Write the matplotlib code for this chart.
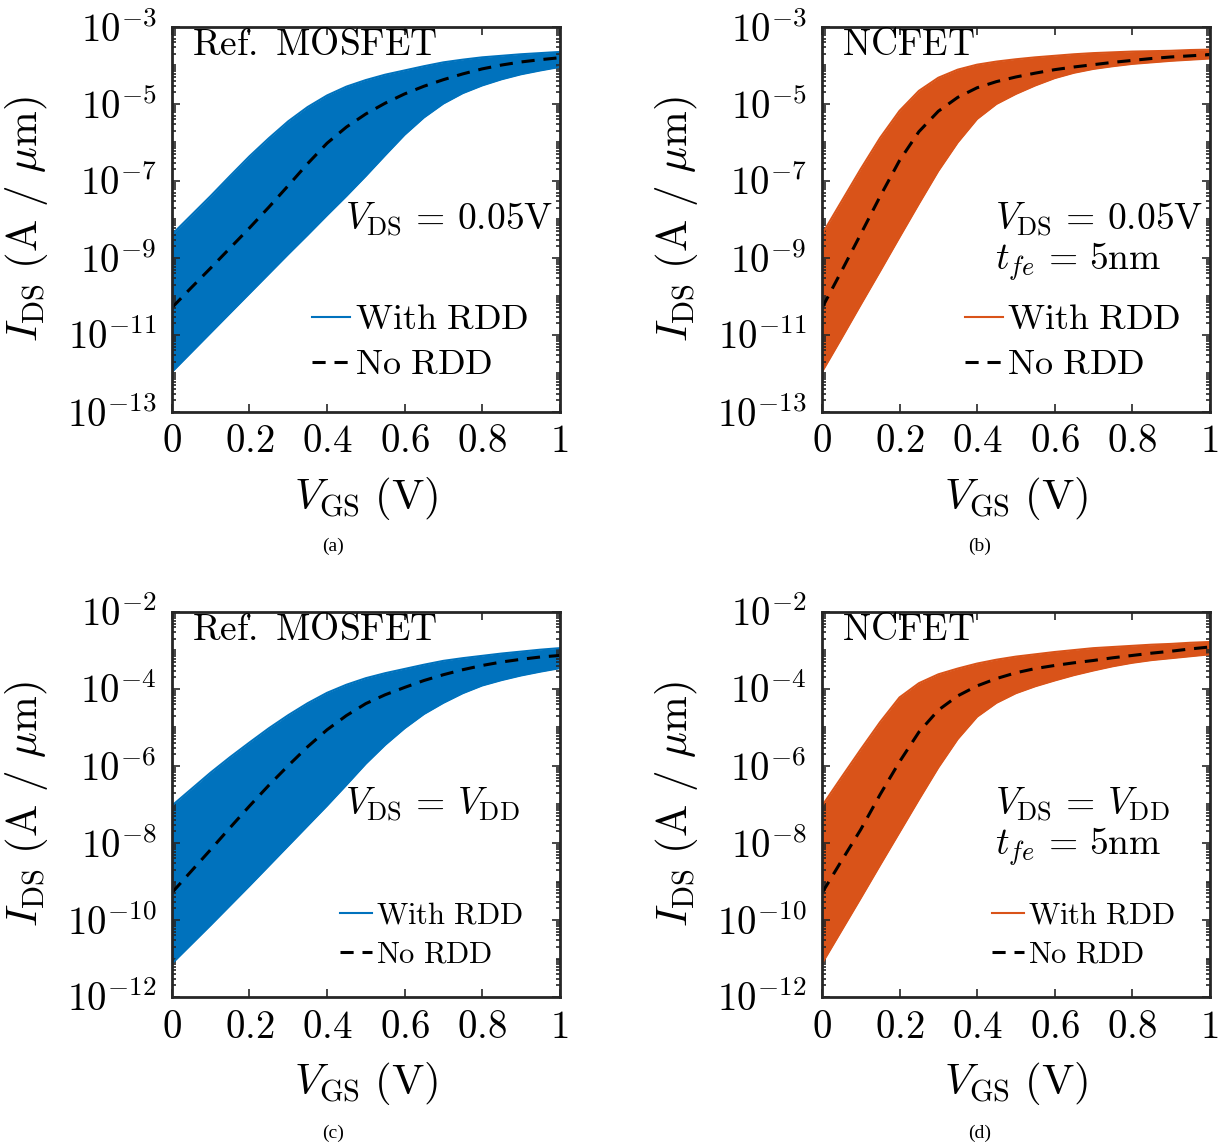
import numpy as np
import matplotlib
matplotlib.use('Agg')
import matplotlib.pyplot as plt
from matplotlib.ticker import FixedLocator, NullFormatter

plt.rcParams['mathtext.fontset'] = 'cm'
plt.rcParams['font.family'] = ['Liberation Serif', 'DejaVu Serif']

# gate voltage sweep (V)
vgs = [0.0, 0.05, 0.1, 0.15, 0.2, 0.25, 0.3, 0.35, 0.4, 0.45, 0.5,
       0.55, 0.6, 0.65, 0.7, 0.75, 0.8, 0.85, 0.9, 0.95, 1.0]

# log10(I_DS) in A/um (edges of the RDD spread + nominal curve)
# (a) Ref. MOSFET, VDS = 0.05 V
a_upper = [-8.39, -7.89, -7.39, -6.87, -6.36, -5.89, -5.45, -5.08, -4.78, -4.55, -4.38,
           -4.24, -4.13, -4.02, -3.92, -3.85, -3.79, -3.75, -3.71, -3.68, -3.65]
a_lower = [-11.96, -11.45, -10.94, -10.43, -9.92, -9.41, -8.90, -8.40, -7.89, -7.39, -6.87,
           -6.33, -5.80, -5.35, -4.99, -4.72, -4.52, -4.36, -4.23, -4.13, -4.04]
a_nordd = [-10.29, -9.77, -9.26, -8.74, -8.22, -7.68, -7.12, -6.55, -6.02, -5.60, -5.26,
           -4.98, -4.74, -4.54, -4.37, -4.22, -4.09, -3.99, -3.91, -3.85, -3.80]
# (b) NCFET, VDS = 0.05 V
b_upper = [-8.39, -7.54, -6.69, -5.88, -5.18, -4.66, -4.32, -4.11, -3.98, -3.90, -3.84,
           -3.79, -3.75, -3.71, -3.68, -3.66, -3.64, -3.63, -3.62, -3.60, -3.59]
b_lower = [-11.96, -11.09, -10.21, -9.34, -8.46, -7.59, -6.74, -6.00, -5.39, -5.00, -4.74,
           -4.52, -4.33, -4.19, -4.09, -4.02, -3.96, -3.92, -3.88, -3.85, -3.82]
b_nordd = [-10.30, -9.35, -8.38, -7.40, -6.47, -5.72, -5.19, -4.83, -4.58, -4.42, -4.30,
           -4.20, -4.11, -4.04, -3.98, -3.92, -3.87, -3.82, -3.78, -3.75, -3.72]
# (c) Ref. MOSFET, VDS = VDD
c_upper = [-7.03, -6.60, -6.17, -5.77, -5.39, -5.02, -4.68, -4.37, -4.10, -3.89, -3.72,
           -3.59, -3.48, -3.37, -3.27, -3.20, -3.14, -3.08, -3.03, -2.98, -2.94]
c_lower = [-11.13, -10.63, -10.13, -9.62, -9.11, -8.59, -8.07, -7.55, -7.03, -6.49, -5.94,
           -5.45, -5.02, -4.65, -4.36, -4.11, -3.91, -3.77, -3.65, -3.55, -3.46]
c_nordd = [-9.29, -8.73, -8.17, -7.60, -7.04, -6.50, -5.99, -5.50, -5.06, -4.69, -4.38,
           -4.15, -3.96, -3.78, -3.63, -3.50, -3.39, -3.30, -3.23, -3.17, -3.13]
# (d) NCFET, VDS = VDD
d_upper = [-7.04, -6.30, -5.57, -4.86, -4.22, -3.85, -3.62, -3.47, -3.34, -3.24, -3.16,
           -3.10, -3.04, -2.99, -2.94, -2.91, -2.88, -2.85, -2.83, -2.80, -2.78]
d_lower = [-11.13, -10.28, -9.43, -8.57, -7.72, -6.87, -6.04, -5.30, -4.72, -4.36, -4.11,
           -3.93, -3.78, -3.64, -3.52, -3.41, -3.32, -3.25, -3.20, -3.15, -3.10]
d_nordd = [-9.30, -8.47, -7.65, -6.74, -5.89, -5.12, -4.55, -4.18, -3.92, -3.73, -3.58,
           -3.47, -3.39, -3.32, -3.26, -3.19, -3.13, -3.07, -3.02, -2.96, -2.91]

blue = '#0072BD'
orange = '#D95319'

panels = [
    dict(up=a_upper, lo=a_lower, mid=a_nordd, col=blue, dev='Ref.\\ MOSFET',
         note=[r'$V_{\rm DS}\,=\,0.05{\rm V}$'], ylim=(-13, -3), cap='(a)',
         pos=[0.1406, 0.6405, 0.317, 0.336], cappos=(0.272, 0.523), leg_fs=26, leg_x=0.325),
    dict(up=b_upper, lo=b_lower, mid=b_nordd, col=orange, dev='NCFET',
         note=[r'$V_{\rm DS}\,=\,0.05{\rm V}$', r'$t_{fe}\,=\,5{\rm nm}$'], ylim=(-13, -3), cap='(b)',
         pos=[0.6721, 0.6405, 0.317, 0.336], cappos=(0.801, 0.523), leg_fs=26, leg_x=0.332),
    dict(up=c_upper, lo=c_lower, mid=c_nordd, col=blue, dev='Ref.\\ MOSFET',
         note=[r'$V_{\rm DS}\,=\,V_{\rm DD}$'], ylim=(-12, -2), cap='(c)',
         pos=[0.1406, 0.130, 0.317, 0.336], cappos=(0.272, 0.011), leg_fs=22, leg_x=0.402),
    dict(up=d_upper, lo=d_lower, mid=d_nordd, col=orange, dev='NCFET',
         note=[r'$V_{\rm DS}\,=\,V_{\rm DD}$', r'$t_{fe}\,=\,5{\rm nm}$'], ylim=(-12, -2), cap='(d)',
         pos=[0.6721, 0.130, 0.317, 0.336], cappos=(0.801, 0.011), leg_fs=22, leg_x=0.407),
]

fig = plt.figure(figsize=(12.23, 11.46), dpi=100)
axcol = '#262626'

for p in panels:
    ax = fig.add_axes(p['pos'])
    up = 10.0 ** np.array(p['up'])
    lo = 10.0 ** np.array(p['lo'])
    mid = 10.0 ** np.array(p['mid'])
    ax.fill_between(vgs, lo, up, color=p['col'], lw=0)
    ax.plot(vgs, up, color=p['col'], lw=1.5, solid_joinstyle='round')
    ax.plot(vgs, lo, color=p['col'], lw=1.5, solid_joinstyle='round', label='$\\mathrm{With\\ RDD}$')
    ax.plot(vgs, mid, color='k', lw=2.2, ls=(0, (4.3, 2.9)), label='$\\mathrm{No\\ RDD}$')
    ax.set_yscale('log')
    ax.set_xlim(0, 1)
    lo_e, hi_e = p['ylim']
    ax.set_ylim(10.0 ** lo_e, 10.0 ** hi_e)

    ax.xaxis.set_major_locator(FixedLocator([0, 0.2, 0.4, 0.6, 0.8, 1.0]))
    ax.set_xticklabels([r'$0$', r'$0.2$', r'$0.4$', r'$0.6$', r'$0.8$', r'$1$'])
    majors = list(range(lo_e, hi_e + 1, 2))
    ax.yaxis.set_major_locator(FixedLocator([10.0 ** e for e in majors]))
    ax.set_yticklabels([r'$10^{%d}$' % e for e in majors])
    minors = [k * 10.0 ** e for e in range(lo_e, hi_e) for k in range(1, 10)]
    ax.yaxis.set_minor_locator(FixedLocator(minors))
    ax.yaxis.set_minor_formatter(NullFormatter())
    ax.tick_params(which='both', direction='in', top=True, right=True, colors=axcol,
                   labelcolor='k', labelsize=28, width=1.2)
    ax.tick_params(which='major', length=6)
    ax.tick_params(which='minor', length=3)
    ax.tick_params(axis='x', pad=9)
    ax.tick_params(axis='y', pad=11)
    for s in ax.spines.values():
        s.set_linewidth(2.0)
        s.set_color(axcol)

    ax.set_xlabel(r'$V_{\rm GS}\ ({\rm V})$', fontsize=31, labelpad=10)
    ax.set_ylabel(r'$I_{\rm DS}\ ({\rm A}\ /\ \mu{\rm m})$', fontsize=31, labelpad=12)

    ax.text(0.052, 0.952, '$\\mathrm{%s}$' % p['dev'], transform=ax.transAxes,
            fontsize=27, ha='left', va='center')
    ax.text(0.446, 0.50, p['note'][0], transform=ax.transAxes, fontsize=27,
            ha='left', va='center')
    if len(p['note']) > 1:
        ax.text(0.446, 0.39, p['note'][1], transform=ax.transAxes, fontsize=27,
                ha='left', va='center')

    handles, labels = ax.get_legend_handles_labels()
    ax.legend(handles, labels, loc='lower left', bbox_to_anchor=(p['leg_x'], 0.04),
              frameon=False, fontsize=p['leg_fs'], handlelength=1.05, handletextpad=0.12,
              labelspacing=0.32, borderaxespad=0)

    fig.text(p['cappos'][0], p['cappos'][1], p['cap'], ha='center', va='center', fontsize=14)

fig.savefig('out.png', dpi=100)
